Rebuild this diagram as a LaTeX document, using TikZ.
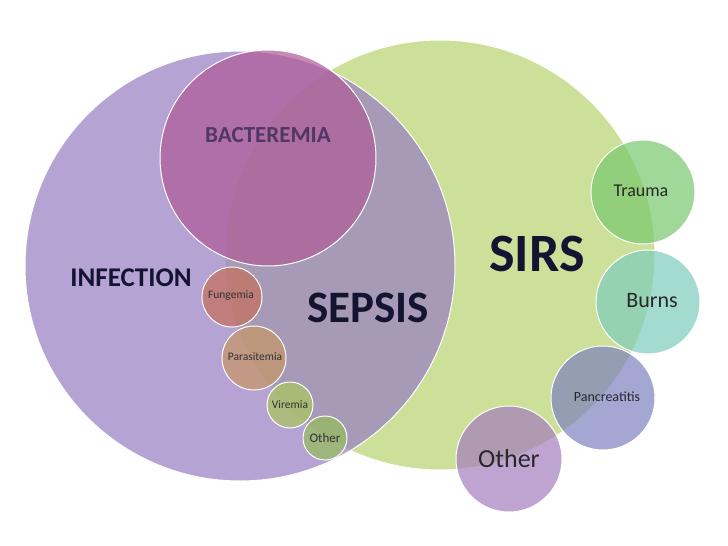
\documentclass[tikz,border=0pt]{standalone}
\usepackage{fontspec}
\setmainfont{Carlito}
\begin{document}
\begin{tikzpicture}[x=1pt,y=-1pt,
  circ/.style={draw=white,line width=1pt,fill opacity=0.7},
  fs/.style={font=\fontsize{#1}{#1}\selectfont},
  fsb/.style={font=\fontsize{#1}{#1}\selectfont\bfseries}]
\useasboundingbox[fill=white] (0,0) rectangle (728,546);
\fill[circ,fill={rgb,255:red,185;green,212;blue,110}] (440,255) circle (215);
\fill[circ,fill={rgb,255:red,150;green,125;blue,195}] (240,266) circle (215);
\fill[circ,fill={rgb,255:red,175;green,90;blue,150}] (268,158) circle (108);
\fill[circ,fill={rgb,255:red,120;green,200;blue,110}] (643,192) circle (52);
\fill[circ,fill={rgb,255:red,125;green,205;blue,190}] (648,302) circle (52);
\fill[circ,fill={rgb,255:red,125;green,130;blue,190}] (603,398) circle (52);
\fill[circ,fill={rgb,255:red,165;green,125;blue,190}] (509,459) circle (53);
\fill[circ,fill={rgb,255:red,200;green,110;blue,90}] (232,297) circle (30);
\fill[circ,fill={rgb,255:red,200;green,150;blue,100}] (254,358) circle (32);
\fill[circ,fill={rgb,255:red,170;green,200;blue,90}] (290,405) circle (23);
\fill[circ,fill={rgb,255:red,150;green,190;blue,90}] (325,438) circle (22);
\node[fsb=23,text={rgb,255:red,80;green,55;blue,100}] (bac) at (268,135) {BACTEREMIA};
\node[fsb=54,text={rgb,255:red,20;green,20;blue,50}] (sirs) at (537,254) {SIRS};
\node[fsb=45,text={rgb,255:red,20;green,20;blue,50}] (sep) at (368,308) {SEPSIS};
\node[fsb=27,text={rgb,255:red,20;green,20;blue,50}] (inf) at (131,278) {INFECTION};
\node[fs=18,text={rgb,255:red,40;green,40;blue,40}] (tra) at (641,191) {Trauma};
\node[fs=22,text={rgb,255:red,40;green,40;blue,40}] (bur) at (652,301) {Burns};
\node[fs=14,text={rgb,255:red,40;green,40;blue,40}] (pan) at (607,397) {Pancreatitis};
\node[fs=26,text={rgb,255:red,40;green,40;blue,40}] (oth) at (509,459) {Other};
\node[fs=11.5,text={rgb,255:red,50;green,50;blue,50}] (fun) at (231,296) {Fungemia};
\node[fs=11.5,text={rgb,255:red,50;green,50;blue,50}] (par) at (255,357) {Parasitemia};
\node[fs=11.5,text={rgb,255:red,50;green,50;blue,50}] (vir) at (290,405) {Viremia};
\node[fs=13,text={rgb,255:red,50;green,50;blue,50}] (oth2) at (325,438) {Other};
\end{tikzpicture}
\end{document}
